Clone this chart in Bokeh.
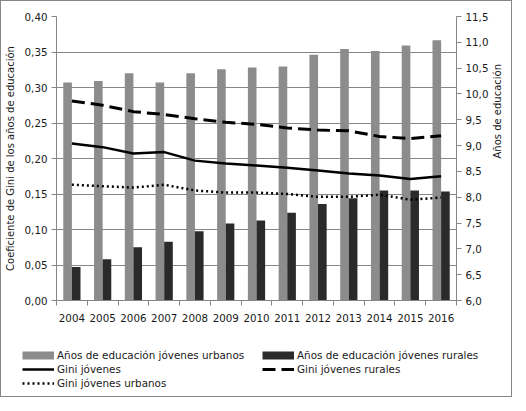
import math
from bokeh.plotting import figure
from bokeh.layouts import column
from bokeh.models import (ColumnDataSource, Range1d, LinearAxis, FixedTicker,
                          CustomJSTickFormatter, Legend, LegendItem)
from bokeh.transform import dodge
from bokeh.embed import file_html
from bokeh.resources import INLINE

# data
years = ["2004", "2005", "2006", "2007", "2008", "2009", "2010",
         "2011", "2012", "2013", "2014", "2015", "2016"]
edu_urbanos = [10.22, 10.25, 10.40, 10.22, 10.40, 10.48, 10.51, 10.53, 10.76, 10.87, 10.83, 10.94, 11.04]
edu_rurales = [6.65, 6.80, 7.03, 7.14, 7.34, 7.49, 7.55, 7.70, 7.87, 7.98, 8.13, 8.13, 8.11]
gini_jovenes = [0.221, 0.216, 0.207, 0.209, 0.197, 0.193, 0.190, 0.187, 0.183, 0.179, 0.176, 0.171, 0.175]
gini_rurales = [0.281, 0.275, 0.266, 0.262, 0.256, 0.251, 0.248, 0.243, 0.240, 0.239, 0.231, 0.228, 0.232]
gini_urbanos = [0.163, 0.161, 0.159, 0.163, 0.155, 0.152, 0.152, 0.150, 0.146, 0.146, 0.149, 0.142, 0.145]
gini_ticks = [0.0, 0.05, 0.10, 0.15, 0.20, 0.25, 0.30, 0.35, 0.40]
edu_ticks = [6.0, 6.5, 7.0, 7.5, 8.0, 8.5, 9.0, 9.5, 10.0, 10.5, 11.0, 11.5]

FONT = "DejaVu Sans"
GRAY = "#868686"
TXT = "#1a1a1a"
URB_COLOR = "#8c8c8c"
RUR_COLOR = "#2a2a2a"

src = ColumnDataSource(dict(x=list(range(len(years))), urb=edu_urbanos, rur=edu_rurales,
                            gj=gini_jovenes, gr=gini_rurales, gu=gini_urbanos))

p = figure(width=510, height=329, output_backend="svg", toolbar_location=None,
           x_range=Range1d(-0.5, len(years) - 0.5), y_range=Range1d(0, 0.40),
           min_border_left=55, min_border_right=49, min_border_top=15, min_border_bottom=30)
p.frame_align = False
p.outline_line_color = None
p.xgrid.grid_line_color = None
p.ygrid.ticker = FixedTicker(ticks=gini_ticks)
p.ygrid.grid_line_color = GRAY

p.extra_y_ranges = {"edu": Range1d(6.0, 11.5)}

# bars on the right axis
p.vbar(x=dodge("x", -0.14), top="urb", bottom=6.0, width=0.28, source=src,
       y_range_name="edu", fill_color=URB_COLOR, line_color=None)
p.vbar(x=dodge("x", 0.14), top="rur", bottom=6.0, width=0.28, source=src,
       y_range_name="edu", fill_color=RUR_COLOR, line_color=None)

# gini lines on the left axis
solid = dict(line_color="black", line_width=2.5)
dashed = dict(line_color="black", line_width=3, line_dash="13 6")
dotted = dict(line_color="black", line_width=2.5, line_dash="2 3")
p.line("x", "gj", source=src, **solid)
p.line("x", "gr", source=src, **dashed)
p.line("x", "gu", source=src, **dotted)

# x axis: labels at the centres, ticks between categories
xa = p.xaxis[0]
xa.ticker = FixedTicker(ticks=list(range(len(years))),
                        minor_ticks=[i - 0.5 for i in range(len(years) + 1)])
xa.formatter = CustomJSTickFormatter(args=dict(labels=years),
                                     code="return labels[Math.round(tick)] || ''")
xa.major_tick_out = 0
xa.major_tick_in = 0
xa.minor_tick_out = 5
xa.minor_tick_in = 0
xa.minor_tick_line_color = GRAY
xa.axis_line_color = GRAY
xa.major_label_standoff = 8

ya = p.yaxis[0]
ya.ticker = FixedTicker(ticks=gini_ticks)
ya.formatter = CustomJSTickFormatter(code="return tick.toFixed(2).replace('.', ',')")
ya.axis_label = "Coeficiente de Gini de los años de educación"

ra = LinearAxis(y_range_name="edu", ticker=FixedTicker(ticks=edu_ticks),
                formatter=CustomJSTickFormatter(code="return tick.toFixed(1).replace('.', ',')"),
                axis_label="Años de educación")
ra.axis_label_orientation = math.pi / 2
p.add_layout(ra, "right")

for ax in [ya, ra]:
    ax.major_tick_out = 5
    ax.major_tick_in = 0
    ax.minor_tick_line_color = None
    ax.axis_line_color = GRAY
    ax.major_tick_line_color = GRAY
    ax.major_label_standoff = 4
    ax.axis_label_standoff = 6
    ax.axis_label_text_font = FONT
    ax.axis_label_text_font_size = "10px"
    ax.axis_label_text_font_style = "normal"
    ax.axis_label_text_color = TXT

for ax in [xa, ya, ra]:
    ax.major_label_text_font = FONT
    ax.major_label_text_font_size = "10.3px"
    ax.major_label_text_color = TXT

# legend strip underneath; its keys reuse the plotted styles, drawn off-range
q = figure(width=510, height=66, output_backend="svg", toolbar_location=None,
           x_range=Range1d(0, 1), y_range=Range1d(0, 1),
           x_axis_location=None, y_axis_location=None,
           min_border_left=0, min_border_right=0, min_border_top=0, min_border_bottom=0)
q.frame_align = False
q.grid.visible = False
q.outline_line_color = None
off = dict(x=[-3, -2], y=[-3, -2])
k_urb = q.line(line_color=URB_COLOR, line_width=8, **off)
k_rur = q.line(line_color=RUR_COLOR, line_width=8, **off)
k_gj = q.line(**off, **solid)
k_gr = q.line(**off, **dashed)
k_gu = q.line(**off, **dotted)

legend = Legend(items=[
    LegendItem(label="Años de educación jóvenes urbanos", renderers=[k_urb]),
    LegendItem(label="Gini jóvenes", renderers=[k_gj]),
    LegendItem(label="Gini jóvenes urbanos", renderers=[k_gu]),
    LegendItem(label="Años de educación jóvenes rurales", renderers=[k_rur]),
    LegendItem(label="Gini jóvenes rurales", renderers=[k_gr]),
], location=(21, 7), nrows=3)
legend.background_fill_alpha = 0
legend.border_line_color = None
legend.padding = 0
legend.margin = 0
legend.spacing = 1
legend.glyph_width = 32
legend.glyph_height = 10
legend.label_height = 13
legend.label_width = 204
legend.label_standoff = 3
legend.label_text_font = FONT
legend.label_text_font_size = "10.4px"
legend.label_text_color = TXT
q.add_layout(legend, "center")

page = column(p, q, spacing=0)
page.styles = {"border": "1px solid #868686"}

open("out.html", "w").write(file_html(page, INLINE))
